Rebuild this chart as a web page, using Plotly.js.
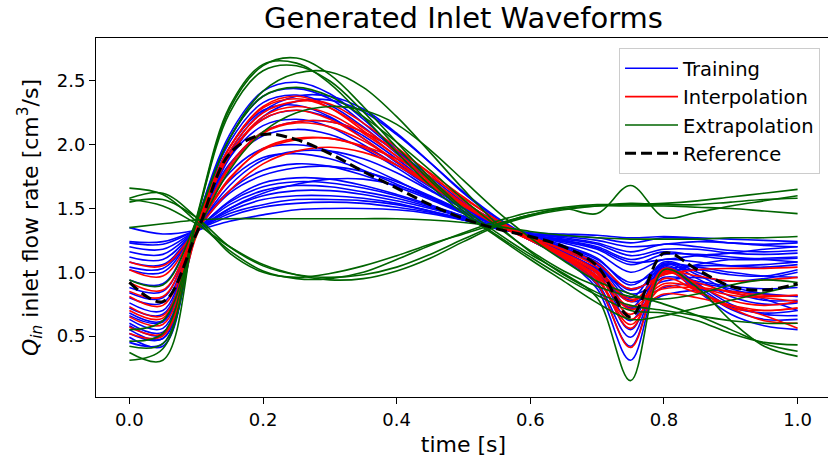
<!DOCTYPE html>
<html>
<head>
<meta charset="utf-8">
<script src="https://cdn.plot.ly/plotly-3.0.1.min.js"></script>
<style>
html,body{margin:0;padding:0;overflow:hidden;background:#fff;}
#chart{width:831px;height:461px;}
</style>
</head>
<body>
<div id="chart"></div>
<script>
const time = [0,0.05,0.1,0.15,0.2,0.25,0.3,0.35,0.4,0.45,0.5,0.55,0.6,0.65,0.7,0.75,0.8,0.85,0.9,0.95,1.0];

const training = [
[1.35,1.30,1.33,1.40,1.45,1.49,1.50,1.50,1.49,1.46,1.41,1.35,1.31,1.30,1.29,1.27,1.28,1.27,1.26,1.25,1.24],
[1.24,1.24,1.33,1.44,1.51,1.54,1.55,1.54,1.51,1.47,1.41,1.34,1.30,1.29,1.27,1.23,1.27,1.26,1.23,1.22,1.23],
[1.23,1.22,1.33,1.46,1.53,1.57,1.57,1.56,1.53,1.48,1.41,1.35,1.30,1.28,1.25,1.20,1.22,1.24,1.23,1.21,1.20],
[1.20,1.18,1.33,1.48,1.57,1.60,1.60,1.58,1.54,1.48,1.42,1.35,1.30,1.27,1.23,1.16,1.22,1.20,1.17,1.16,1.17],
[1.16,1.14,1.33,1.50,1.60,1.64,1.64,1.61,1.56,1.50,1.43,1.35,1.29,1.26,1.22,1.13,1.18,1.18,1.15,1.14,1.15],
[1.12,1.10,1.33,1.53,1.64,1.68,1.67,1.63,1.58,1.51,1.43,1.35,1.29,1.25,1.20,1.10,1.16,1.13,1.10,1.10,1.11],
[1.08,1.06,1.33,1.55,1.67,1.71,1.70,1.66,1.60,1.52,1.44,1.36,1.29,1.24,1.18,1.06,1.14,1.14,1.12,1.10,1.08],
[1.04,1.03,1.31,1.50,1.62,1.69,1.73,1.73,1.68,1.59,1.48,1.38,1.30,1.25,1.19,1.08,1.10,1.13,1.15,1.18,1.20],
[1.02,1.00,1.32,1.56,1.70,1.74,1.73,1.68,1.61,1.53,1.44,1.36,1.29,1.23,1.15,1.00,1.10,1.08,1.05,1.04,1.06],
[0.94,0.91,1.34,1.64,1.80,1.85,1.83,1.76,1.67,1.57,1.46,1.37,1.29,1.21,1.11,0.90,1.06,1.04,1.00,0.97,0.96],
[0.84,0.80,1.35,1.72,1.90,1.93,1.89,1.80,1.69,1.58,1.47,1.37,1.28,1.19,1.06,0.80,1.08,1.00,0.89,0.83,0.81],
[0.88,0.85,1.32,1.62,1.76,1.82,1.83,1.79,1.71,1.60,1.48,1.37,1.28,1.20,1.10,0.92,1.02,1.05,1.05,1.06,1.08],
[0.76,0.70,1.35,1.78,1.97,2.00,1.95,1.84,1.72,1.59,1.47,1.37,1.28,1.18,1.04,0.72,1.07,0.98,0.85,0.78,0.78],
[0.80,0.76,1.32,1.68,1.88,1.95,1.95,1.89,1.78,1.64,1.50,1.38,1.28,1.19,1.08,0.86,1.00,1.02,0.98,0.97,1.02],
[0.68,0.62,1.36,1.90,2.15,2.20,2.14,2.00,1.84,1.67,1.51,1.38,1.27,1.16,1.00,0.62,1.06,0.95,0.81,0.75,0.76],
[0.63,0.56,1.37,1.98,2.27,2.31,2.22,2.05,1.86,1.68,1.51,1.37,1.26,1.14,0.96,0.55,1.05,0.91,0.75,0.67,0.66],
[0.60,0.53,1.37,2.02,2.33,2.39,2.31,2.14,1.93,1.72,1.53,1.38,1.26,1.12,0.92,0.49,1.04,0.89,0.73,0.68,0.70],
[0.55,0.48,1.38,2.05,2.38,2.44,2.36,2.17,1.95,1.73,1.53,1.38,1.25,1.11,0.90,0.42,1.03,0.87,0.71,0.63,0.63],
[0.49,0.42,1.38,2.08,2.42,2.49,2.40,2.20,1.96,1.73,1.53,1.38,1.25,1.10,0.87,0.31,1.01,0.85,0.67,0.58,0.55],
[0.45,0.44,1.30,1.90,2.22,2.34,2.35,2.26,2.08,1.86,1.63,1.43,1.27,1.12,0.97,0.72,0.82,0.86,0.85,0.83,0.81],
[0.52,0.48,1.32,1.94,2.26,2.38,2.38,2.28,2.09,1.86,1.62,1.42,1.26,1.13,0.99,0.77,0.88,0.91,0.87,0.79,0.70],
[0.72,0.67,1.35,1.85,2.07,2.12,2.08,1.97,1.82,1.65,1.50,1.38,1.27,1.16,1.02,0.78,0.96,0.93,0.89,0.87,0.88],
[0.58,0.51,1.34,1.93,2.20,2.27,2.21,2.07,1.89,1.69,1.51,1.38,1.26,1.15,1.03,0.87,0.98,1.06,1.10,1.11,1.12],
[0.66,0.61,1.32,1.84,2.10,2.18,2.18,2.10,1.95,1.75,1.55,1.40,1.28,1.17,1.06,0.83,0.93,0.96,0.93,0.95,1.00]
];

const interpolation = [
[1.08,1.05,1.33,1.64,1.85,1.95,1.98,1.94,1.84,1.69,1.53,1.39,1.28,1.18,1.07,0.87,0.98,1.02,1.03,1.03,1.04],
[1.02,0.97,1.34,1.73,1.97,2.05,2.05,1.98,1.84,1.68,1.52,1.39,1.28,1.17,1.04,0.77,1.00,0.97,0.93,0.94,0.96],
[0.92,0.86,1.35,1.82,2.09,2.17,2.14,2.03,1.87,1.70,1.53,1.38,1.27,1.14,0.99,0.67,0.99,0.92,0.84,0.81,0.82],
[0.81,0.74,1.36,1.92,2.22,2.30,2.24,2.09,1.91,1.71,1.53,1.38,1.26,1.12,0.95,0.56,1.03,0.90,0.78,0.74,0.77],
[0.73,0.66,1.37,1.98,2.30,2.38,2.29,2.11,1.91,1.71,1.52,1.37,1.25,1.11,0.91,0.41,1.01,0.86,0.72,0.70,0.72],
[0.65,0.59,1.36,1.98,2.29,2.36,2.29,2.13,1.94,1.73,1.54,1.38,1.25,1.12,0.94,0.63,0.89,0.84,0.74,0.66,0.56],
[0.57,0.52,1.33,1.95,2.25,2.34,2.32,2.17,1.98,1.77,1.56,1.39,1.26,1.13,0.97,0.71,0.83,0.80,0.74,0.70,0.72],
[0.52,0.50,1.28,1.84,2.10,2.18,2.18,2.10,1.96,1.78,1.59,1.41,1.27,1.14,1.00,0.79,0.87,0.88,0.85,0.82,0.82],
[0.85,0.81,1.33,1.74,1.96,2.04,2.05,1.99,1.89,1.75,1.58,1.41,1.27,1.15,1.01,0.73,0.91,0.88,0.82,0.80,0.77],
[0.70,0.64,1.36,1.92,2.20,2.27,2.20,2.05,1.87,1.69,1.52,1.38,1.26,1.13,0.96,0.59,0.95,0.85,0.72,0.62,0.60]
];

const extrapolation = [
[0.37,0.31,1.40,2.28,2.62,2.68,2.55,2.30,2.02,1.74,1.50,1.31,1.14,0.99,0.80,0.15,1.02,0.88,0.62,0.42,0.34],
[0.31,0.40,1.42,2.30,2.63,2.64,2.48,2.22,1.94,1.68,1.46,1.28,1.10,0.93,0.76,0.63,0.66,0.72,0.78,0.84,0.90],
[0.42,0.44,1.41,2.25,2.58,2.62,2.50,2.26,1.98,1.72,1.48,1.29,1.12,0.96,0.82,0.70,0.68,0.62,0.52,0.45,0.43],
[0.46,0.52,1.38,2.05,2.42,2.56,2.57,2.45,2.22,1.94,1.65,1.38,1.16,0.98,0.84,0.74,0.70,0.66,0.62,0.60,0.60],
[0.94,0.90,1.40,2.05,2.38,2.45,2.38,2.22,2.02,1.80,1.57,1.36,1.17,1.01,0.89,0.81,0.79,0.83,0.90,0.94,0.92],
[0.55,0.62,1.30,1.80,2.10,2.25,2.30,2.27,2.16,1.96,1.72,1.48,1.27,1.09,0.93,0.83,0.75,0.66,0.55,0.44,0.38],
[1.66,1.61,1.40,1.17,1.01,0.95,0.95,1.00,1.10,1.21,1.31,1.40,1.47,1.51,1.53,1.53,1.54,1.56,1.59,1.62,1.65],
[1.58,1.62,1.43,1.15,1.00,0.96,0.99,1.05,1.13,1.22,1.30,1.38,1.45,1.50,1.46,1.68,1.43,1.47,1.52,1.56,1.60],
[1.55,1.57,1.43,1.20,1.05,0.98,0.96,0.98,1.04,1.14,1.26,1.37,1.45,1.50,1.52,1.52,1.52,1.51,1.50,1.48,1.46],
[1.57,1.52,1.38,1.20,1.06,0.98,0.94,0.95,1.01,1.11,1.24,1.36,1.44,1.49,1.52,1.54,1.53,1.53,1.55,1.57,1.58],
[1.35,1.38,1.41,1.42,1.42,1.42,1.42,1.42,1.42,1.41,1.39,1.36,1.32,1.29,1.27,1.26,1.26,1.26,1.27,1.27,1.28]
];

const reference = [0.92,0.77,1.30,1.93,2.08,2.04,1.93,1.79,1.66,1.53,1.42,1.34,1.28,1.20,1.05,0.65,1.15,1.02,0.89,0.86,0.91];

const xTicks = [0, 0.2, 0.4, 0.6, 0.8, 1.0];
const yTicks = [0.5, 1.0, 1.5, 2.0, 2.5];

const FONT = 'DejaVu Sans, sans-serif';
const traces = [];
function addGroup(rows, name, color) {
  rows.forEach((y, i) => {
    traces.push({
      x: time, y: y, type: 'scatter', mode: 'lines', name: name,
      showlegend: i === 0,
      line: {color: color, width: 1.6, shape: 'spline', smoothing: 1}
    });
  });
}
addGroup(training, 'Training', '#0000ff');
addGroup(interpolation, 'Interpolation', '#ff0000');
addGroup(extrapolation, 'Extrapolation', '#006400');
traces.push({
  x: time, y: reference, type: 'scatter', mode: 'lines', name: 'Reference',
  line: {color: '#000000', width: 3, dash: '11px,5px', shape: 'spline', smoothing: 1}
});

const layout = {
  width: 831, height: 461,
  margin: {l: 96, r: 0, t: 38, b: 64},
  paper_bgcolor: '#ffffff', plot_bgcolor: '#ffffff',
  font: {family: FONT, color: '#000000', size: 18},
  showlegend: true,
  title: {text: 'Generated Inlet Waveforms', font: {family: FONT, size: 29, color: '#000'},
          xref: 'paper', x: 0.5, xanchor: 'center', yref: 'container', y: 0.962, yanchor: 'middle'},
  xaxis: {
    range: [-0.05, 1.05], tickvals: xTicks, ticktext: xTicks.map(v => v.toFixed(1)),
    ticks: 'outside', ticklen: 6, tickwidth: 1, tickcolor: '#000',
    showline: true, linecolor: '#000', linewidth: 1, mirror: true,
    showgrid: false, zeroline: false,
    tickfont: {family: FONT, size: 18},
    title: {text: 'time [s]', font: {family: FONT, size: 22}, standoff: 8}
  },
  yaxis: {
    range: [0.0216, 2.837], tickvals: yTicks, ticktext: yTicks.map(v => v.toFixed(1)),
    ticks: 'outside', ticklen: 6, tickwidth: 1, tickcolor: '#000',
    showline: true, linecolor: '#000', linewidth: 1, mirror: true,
    showgrid: false, zeroline: false,
    tickfont: {family: FONT, size: 18},
    title: {text: '<i>Q</i><sub><i>in</i></sub> inlet flow rate [cm<sup>3</sup>/s]', font: {family: FONT, size: 22}, standoff: 12}
  },
  legend: {
    x: 0.7116, y: 0.972, xanchor: 'left', yanchor: 'top',
    bgcolor: 'rgba(255,255,255,0.85)', bordercolor: '#cccccc', borderwidth: 1,
    itemwidth: 53, tracegroupgap: 0,
    font: {family: FONT, size: 19.5, color: '#000'}
  }
};

Plotly.newPlot('chart', traces, layout, {staticPlot: true, displayModeBar: false});
</script>
</body>
</html>
